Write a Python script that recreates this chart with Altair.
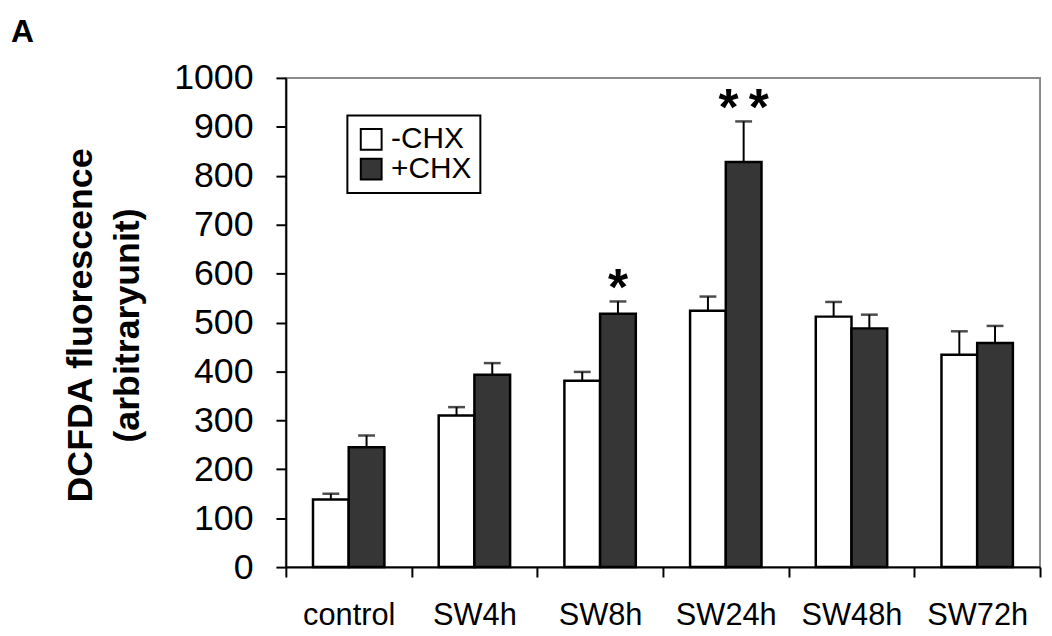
import altair as alt
import pandas as pd

categories = ["control", "SW4h", "SW8h", "SW24h", "SW48h", "SW72h"]
groups = ["-CHX", "+CHX"]
minus_chx = [138, 310, 381, 524, 512, 434]
minus_err = [12, 17, 18, 29, 30, 48]
plus_chx = [245, 393, 518, 828, 488, 458]
plus_err = [24, 24, 25, 83, 28, 35]
stars = ["", "", "*", "*\u2009*", "", ""]
y_ticks = [0, 100, 200, 300, 400, 500, 600, 700, 800, 900, 1000]

SANS = "Liberation Sans, Arial, sans-serif"

rows = []
for i, c in enumerate(categories):
    rows.append({"cat": c, "group": "-CHX", "value": minus_chx[i], "top": minus_chx[i] + minus_err[i]})
    rows.append({"cat": c, "group": "+CHX", "value": plus_chx[i], "top": plus_chx[i] + plus_err[i]})
df = pd.DataFrame(rows)

star_df = pd.DataFrame({
    "cat": categories,
    "group": ["+CHX"] * len(categories),
    "top": [v + e for v, e in zip(plus_chx, plus_err)],
    "label": stars,
})
star_df = star_df[star_df["label"] != ""]

x_enc = alt.X(
    "cat:N", sort=categories,
    scale=alt.Scale(paddingInner=0, paddingOuter=0),
    axis=alt.Axis(
        title=None, tickBand="extent", labelAngle=0,
        labelFont=SANS, labelFontSize=31, labelColor="black", labelPadding=24,
        tickSize=10, tickWidth=2, tickColor="black",
        domainColor="black", domainWidth=2,
    ),
)
xo_enc = alt.XOffset(
    "group:N", sort=groups,
    scale=alt.Scale(domain=groups, paddingInner=0, paddingOuter=0.76),
)
y_enc = alt.Y(
    "value:Q",
    scale=alt.Scale(domain=[0, 1000], nice=False),
    axis=alt.Axis(
        values=y_ticks, grid=False, format="d",
        title=["DCFDA fluorescence", "(arbitraryunit)"],
        titleFont=SANS, titleFontSize=36, titleFontWeight="bold", titleColor="black",
        titleAngle=270, titleAlign="center", titleBaseline="alphabetic",
        titleX=-196, titleY=249, titleLineHeight=48,
        labelFont=SANS, labelFontSize=36, labelColor="black", labelPadding=23,
        tickSize=10, tickWidth=2, tickColor="black",
        domainColor="black", domainWidth=2,
    ),
)

bars = alt.Chart(df).mark_bar(stroke="black", strokeWidth=2.5).encode(
    x=x_enc,
    xOffset=xo_enc,
    y=y_enc,
    fill=alt.Fill(
        "group:N", sort=groups,
        scale=alt.Scale(domain=groups, range=["white", "#363636"]),
        legend=alt.Legend(
            title=None, orient="none", legendX=62, legendY=38,
            labelFont=SANS, labelFontSize=30, labelColor="black",
            symbolType="square", symbolSize=441,
            symbolStrokeColor="black", symbolStrokeWidth=2,
            strokeColor="black", padding=9, labelOffset=5, rowPadding=0,
        ),
    ),
)

err = alt.Chart(df).mark_rule(color="black", strokeWidth=2).encode(
    x=x_enc, xOffset=xo_enc, y="value:Q", y2="top:Q"
)
caps = alt.Chart(df).mark_tick(color="black", thickness=2.5, size=17).encode(
    x=x_enc, xOffset=xo_enc, y="top:Q"
)
star_text = alt.Chart(star_df).mark_text(
    font=SANS, fontSize=52, fontWeight="bold", color="black",
    align="center", baseline="alphabetic", dy=4
).encode(
    x=x_enc, xOffset=xo_enc, y="top:Q", text="label:N"
)

chart = alt.layer(bars, err, caps, star_text).properties(
    width=760, height=493,
    autosize=alt.AutoSizeParams(type="none"),
    padding={"left": 280, "top": 68, "right": 4, "bottom": 67},
    title=alt.Title(
        "A", anchor="start", frame="group", dx=-277, offset=11,
        fontSize=32, fontWeight="bold", font=SANS, color="black",
    ),
).configure_view(
    stroke="#8a8a8a", strokeWidth=2
).configure_legend(
    strokeWidth=2
)

chart.save("out.html", embed_options={"renderer": "svg", "actions": False})
